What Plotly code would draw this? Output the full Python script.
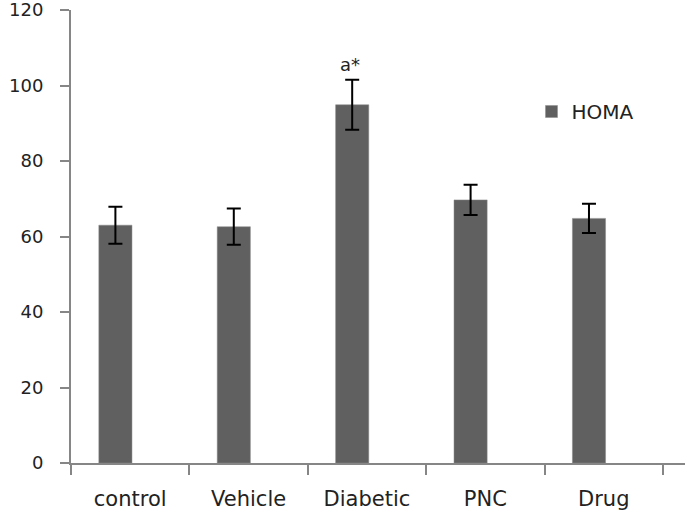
import plotly.graph_objects as go

categories = ["control", "Vehicle", "Diabetic", "PNC", "Drug"]
homa = [63.0, 62.6, 94.9, 69.7, 64.8]
homa_err = [4.9, 4.8, 6.6, 4.0, 3.9]
sig_labels = ["", "", "a*", "", ""]
y_ticks = [0, 20, 40, 60, 80, 100, 120]

axis_col = "#868686"
bar_col = "#606060"

fig = go.Figure()
fig.add_trace(go.Bar(
    x=categories, y=homa, name="HOMA",
    marker=dict(color=bar_col, line=dict(color="#8a8a8a", width=0.5)),
    width=0.28, offset=-0.265,
    error_y=dict(type="data", array=homa_err, visible=True,
                 color="black", thickness=2, width=7),
))

for c, v, e, s in zip(categories, homa, homa_err, sig_labels):
    if s:
        fig.add_annotation(x=c, y=v + e, text=s, showarrow=False,
                           xshift=-17, yanchor="bottom", yshift=3,
                           font=dict(family="DejaVu Sans", size=18, color="#222"))

fig.update_layout(
    width=685, height=511,
    margin=dict(l=71, r=0, t=10, b=48, autoexpand=False),
    plot_bgcolor="white", paper_bgcolor="white",
    showlegend=True,
    legend=dict(x=0.75, y=0.776, xanchor="left", yanchor="middle",
                font=dict(family="DejaVu Sans", size=20, color="#222"),
                bgcolor="rgba(0,0,0,0)", itemwidth=30),
)
fig.update_xaxes(
    type="category", range=[-0.5, 4.686], automargin=False,
    showline=True, linecolor=axis_col, linewidth=2,
    ticks="outside", tickson="boundaries", ticklen=10, tickcolor=axis_col, tickwidth=2,
    tickfont=dict(family="DejaVu Sans", size=21, color="#222"),
    ticklabelstandoff=16, ticklabeloverflow="allow",
    showgrid=False, zeroline=False,
)
fig.update_yaxes(
    range=[0, 120], tickvals=y_ticks, automargin=False,
    showline=True, linecolor=axis_col, linewidth=2,
    ticks="outside", ticklen=9, tickcolor=axis_col, tickwidth=2,
    tickfont=dict(family="DejaVu Sans", size=18, color="#222"),
    ticklabelstandoff=13, ticklabeloverflow="allow",
    showgrid=False, zeroline=False,
)

fig.write_html("out.html", config={"displayModeBar": False},
               post_script="document.body.style.margin='0';")
